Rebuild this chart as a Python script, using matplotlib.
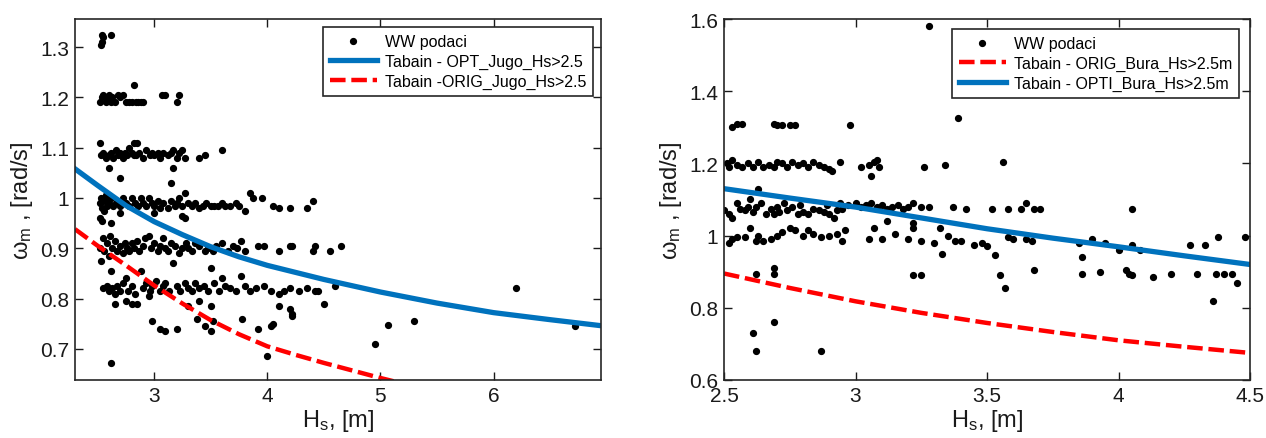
import numpy as np
import matplotlib
matplotlib.use('Agg')
import matplotlib.pyplot as plt
from matplotlib.ticker import FormatStrFormatter

plt.rcParams['font.family'] = ['Arial', 'Liberation Sans', 'DejaVu Sans']
plt.rcParams['mathtext.fontset'] = 'custom'
plt.rcParams['mathtext.rm'] = 'Liberation Sans'
plt.rcParams['mathtext.it'] = 'Liberation Sans'

# ---------------- Jugo (lijevo): WW podaci ----------------
jugo_13 = [(2.53, 1.305), (2.535, 1.31), (2.54, 1.325), (2.55, 1.32), (2.62, 1.325)]
jugo_12 = [(2.52, 1.19), (2.54, 1.2), (2.55, 1.205), (2.57, 1.19), (2.58, 1.2), (2.6, 1.205),
           (2.62, 1.19), (2.63, 1.2), (2.65, 1.19), (2.68, 1.205), (2.7, 1.2), (2.72, 1.205),
           (2.75, 1.19), (2.78, 1.19), (2.8, 1.19), (2.82, 1.225), (2.84, 1.19), (2.86, 1.19),
           (2.88, 1.19), (2.9, 1.19), (3.07, 1.205), (3.1, 1.205), (3.2, 1.19), (3.22, 1.205)]
jugo_11 = [(2.52, 1.11), (2.53, 1.085), (2.55, 1.09), (2.57, 1.08), (2.6, 1.085), (2.62, 1.09),
           (2.64, 1.08), (2.66, 1.095), (2.68, 1.085), (2.7, 1.09), (2.72, 1.08), (2.74, 1.09),
           (2.76, 1.085), (2.78, 1.1), (2.8, 1.09), (2.82, 1.11), (2.84, 1.085), (2.85, 1.11),
           (2.87, 1.09), (2.9, 1.08), (2.93, 1.095), (2.96, 1.085), (2.98, 1.09), (3.0, 1.085),
           (3.03, 1.09), (3.05, 1.08), (3.08, 1.09), (3.12, 1.085), (3.15, 1.09), (3.17, 1.095),
           (3.2, 1.08), (3.22, 1.09), (3.25, 1.095), (3.27, 1.08), (3.4, 1.08), (3.45, 1.085),
           (3.6, 1.095), (2.6, 1.06), (3.17, 1.06), (2.7, 1.04), (3.15, 1.03), (2.82, 1.085)]
jugo_10 = [(2.52, 0.99), (2.53, 1.0), (2.54, 0.98), (2.55, 0.995), (2.56, 0.975), (2.57, 1.0),
           (2.58, 0.985), (2.6, 0.99), (2.62, 1.0), (2.64, 0.985), (2.66, 0.99), (2.7, 0.985),
           (2.72, 1.0), (2.75, 0.99), (2.78, 0.985), (2.8, 1.0), (2.83, 0.99), (2.86, 0.985),
           (2.88, 1.0), (2.9, 0.99), (2.93, 0.985), (2.95, 1.0), (2.98, 0.99), (3.0, 0.985),
           (3.03, 0.995), (3.05, 0.98), (3.08, 0.99), (3.12, 0.98), (3.15, 0.995), (3.18, 0.985),
           (3.2, 0.99), (3.22, 1.0), (3.25, 0.985), (3.27, 1.01), (3.3, 0.99), (3.33, 0.985),
           (3.36, 0.99), (3.4, 0.98), (3.43, 0.985), (3.46, 0.99), (3.5, 0.985), (3.53, 0.985),
           (3.56, 0.985), (3.6, 0.99), (3.63, 0.985), (3.67, 0.985), (3.72, 0.99), (3.75, 0.985),
           (3.8, 0.975), (3.85, 1.01), (3.87, 1.0), (3.95, 1.0), (4.05, 0.985), (4.1, 0.98),
           (4.2, 0.98), (4.35, 0.98), (4.4, 0.995), (2.52, 0.96), (2.54, 0.955), (2.62, 0.95),
           (2.7, 0.97), (3.0, 0.97), (3.25, 0.965), (3.27, 0.96), (2.57, 1.005)]
jugo_09 = [(2.52, 0.9), (2.53, 0.875), (2.55, 0.92), (2.56, 0.895), (2.58, 0.91), (2.6, 0.885),
           (2.61, 0.925), (2.63, 0.9), (2.65, 0.915), (2.67, 0.895), (2.7, 0.905), (2.72, 0.89),
           (2.74, 0.91), (2.76, 0.9), (2.78, 0.895), (2.8, 0.91), (2.82, 0.9), (2.85, 0.915),
           (2.87, 0.895), (2.9, 0.905), (2.92, 0.92), (2.95, 0.925), (2.97, 0.9), (3.0, 0.91),
           (3.03, 0.895), (3.05, 0.905), (3.08, 0.92), (3.1, 0.9), (3.12, 0.895), (3.15, 0.91),
           (3.18, 0.905), (3.22, 0.89), (3.25, 0.9), (3.28, 0.91), (3.3, 0.9), (3.33, 0.895),
           (3.36, 0.91), (3.4, 0.905), (3.45, 0.895), (3.48, 0.9), (3.52, 0.895), (3.55, 0.905),
           (3.6, 0.91), (3.65, 0.895), (3.7, 0.905), (3.73, 0.9), (3.77, 0.915), (3.8, 0.895),
           (3.92, 0.905), (3.97, 0.905), (4.1, 0.895), (4.2, 0.905), (4.22, 0.905), (4.4, 0.895),
           (4.42, 0.905), (4.55, 0.895), (4.65, 0.905)]
jugo_08 = [(2.55, 0.82), (2.58, 0.825), (2.6, 0.815), (2.62, 0.855), (2.63, 0.82), (2.65, 0.81),
           (2.67, 0.825), (2.7, 0.815), (2.72, 0.83), (2.75, 0.84), (2.77, 0.815), (2.8, 0.825),
           (2.83, 0.81), (2.88, 0.855), (2.9, 0.82), (2.93, 0.83), (2.96, 0.815), (2.98, 0.825),
           (3.02, 0.835), (3.05, 0.815), (3.08, 0.825), (3.1, 0.83), (3.13, 0.815), (3.17, 0.87),
           (3.2, 0.825), (3.23, 0.815), (3.27, 0.83), (3.3, 0.82), (3.33, 0.815), (3.36, 0.83),
           (3.4, 0.82), (3.44, 0.825), (3.48, 0.815), (3.5, 0.86), (3.53, 0.83), (3.57, 0.815),
           (3.6, 0.84), (3.63, 0.825), (3.67, 0.82), (3.72, 0.815), (3.77, 0.845), (3.8, 0.825),
           (3.85, 0.815), (3.9, 0.82), (3.97, 0.825), (4.03, 0.815), (4.1, 0.81), (4.15, 0.815),
           (4.2, 0.82), (4.28, 0.815), (4.35, 0.82), (4.42, 0.815), (4.45, 0.815), (4.6, 0.825),
           (2.65, 0.79), (2.75, 0.795), (2.8, 0.79), (2.85, 0.79), (2.95, 0.805), (3.3, 0.785),
           (3.4, 0.795), (3.5, 0.785), (4.1, 0.785), (4.2, 0.78), (4.22, 0.765), (4.22, 0.77),
           (4.5, 0.79)]
jugo_low = [(2.98, 0.755), (3.05, 0.74), (3.1, 0.735), (3.2, 0.74), (3.38, 0.76), (3.45, 0.745),
            (3.5, 0.735), (3.52, 0.755), (3.78, 0.76), (3.92, 0.74), (4.03, 0.745), (4.05, 0.75),
            (4.0, 0.685), (2.62, 0.672), (4.95, 0.71), (5.07, 0.748), (5.3, 0.755), (6.2, 0.82),
            (6.72, 0.745)]

# Tabain krivulje - Jugo
hs_jugo_opt = [2.3, 2.5, 2.75, 3.0, 3.25, 3.5, 3.75, 4.0, 4.5, 5.0, 5.5, 6.0, 6.5, 6.95]
w_jugo_opt = [1.058, 1.025, 0.985, 0.953, 0.927, 0.903, 0.883, 0.866, 0.838, 0.813, 0.791, 0.772, 0.758, 0.746]
hs_jugo_orig = [2.3, 2.5, 2.75, 3.0, 3.25, 3.5, 3.75, 4.0, 4.25, 4.5, 4.75, 5.0, 5.25]
w_jugo_orig = [0.938, 0.905, 0.866, 0.826, 0.79, 0.757, 0.729, 0.705, 0.688, 0.672, 0.657, 0.642, 0.628]

# ---------------- Bura (desno): WW podaci ----------------
bura_13 = [(3.28, 1.58), (3.39, 1.325), (2.53, 1.30), (2.55, 1.31), (2.57, 1.31), (2.69, 1.31),
           (2.7, 1.305), (2.72, 1.305), (2.75, 1.305), (2.77, 1.305), (2.98, 1.305)]
bura_12 = [(2.51, 1.2), (2.52, 1.19), (2.53, 1.21), (2.55, 1.195), (2.57, 1.19), (2.59, 1.2),
           (2.61, 1.19), (2.63, 1.205), (2.65, 1.19), (2.67, 1.195), (2.69, 1.19), (2.7, 1.205),
           (2.72, 1.2), (2.74, 1.19), (2.76, 1.205), (2.78, 1.195), (2.8, 1.2), (2.82, 1.19),
           (2.84, 1.205), (2.86, 1.195), (2.88, 1.19), (2.9, 1.185), (2.91, 1.18), (2.94, 1.205),
           (3.02, 1.19), (3.05, 1.195), (3.07, 1.205), (3.08, 1.21), (3.09, 1.19), (3.06, 1.165),
           (3.26, 1.19), (3.34, 1.195), (3.56, 1.205)]
bura_105 = [(2.5, 1.07), (2.52, 1.06), (2.53, 1.05), (2.55, 1.09), (2.56, 1.075), (2.58, 1.07),
            (2.59, 1.08), (2.6, 1.1), (2.61, 1.065), (2.62, 1.08), (2.63, 1.13), (2.64, 1.09),
            (2.66, 1.06), (2.68, 1.075), (2.69, 1.06), (2.7, 1.08), (2.71, 1.065), (2.73, 1.09),
            (2.74, 1.07), (2.76, 1.08), (2.78, 1.06), (2.79, 1.085), (2.8, 1.065), (2.82, 1.06),
            (2.84, 1.075), (2.86, 1.07), (2.88, 1.065), (2.89, 1.085), (2.9, 1.06), (2.92, 1.05),
            (2.93, 1.07), (2.94, 1.09), (2.95, 1.075)]
bura_108 = [(2.97, 1.085), (3.0, 1.09), (3.02, 1.08), (3.04, 1.085), (3.06, 1.09), (3.08, 1.08),
            (3.1, 1.085), (3.12, 1.075), (3.14, 1.08), (3.16, 1.085), (3.18, 1.075), (3.2, 1.08),
            (3.22, 1.09), (3.25, 1.08), (3.28, 1.08), (3.37, 1.08), (3.42, 1.075), (3.52, 1.075),
            (3.58, 1.075), (3.63, 1.075), (3.65, 1.09), (3.68, 1.075), (3.7, 1.075), (4.05, 1.075)]
bura_10 = [(2.52, 0.98), (2.53, 0.99), (2.58, 0.995), (2.6, 1.02), (2.62, 0.985), (2.63, 1.0),
           (2.68, 0.99), (2.7, 1.0), (2.72, 1.01), (2.75, 1.02), (2.77, 1.015), (2.8, 1.0),
           (2.82, 1.015), (2.84, 1.005), (2.87, 0.995), (2.9, 1.0), (2.93, 1.005), (2.95, 0.985),
           (2.96, 1.015), (3.05, 0.99), (3.07, 1.02), (3.1, 0.99), (3.12, 1.04), (3.15, 1.005),
           (3.2, 0.99), (3.22, 1.02), (3.25, 0.985), (3.3, 0.98), (3.32, 1.02), (3.35, 1.0),
           (3.4, 0.985), (3.45, 0.975), (3.48, 0.98), (3.5, 0.97), (3.58, 0.995), (3.6, 0.99),
           (3.65, 0.99), (3.67, 0.985), (3.22, 1.035), (2.65, 0.985), (2.55, 0.995), (3.38, 0.985)]
bura_low = [(3.33, 0.95), (3.53, 0.945), (3.85, 0.98), (3.9, 0.99), (3.95, 0.98), (4.0, 0.96),
            (4.05, 0.975), (4.08, 0.96), (4.27, 0.975), (4.33, 0.975), (4.38, 0.995), (4.48, 0.995),
            (2.62, 0.895), (2.69, 0.91), (2.69, 0.895), (3.22, 0.89), (3.25, 0.89), (3.55, 0.89),
            (3.68, 0.905), (3.86, 0.895), (3.86, 0.94), (3.93, 0.9), (4.03, 0.905), (4.05, 0.89),
            (4.04, 0.895), (4.13, 0.885), (4.2, 0.895), (4.3, 0.895), (4.37, 0.895), (4.4, 0.895),
            (4.43, 0.895), (4.45, 0.87), (4.36, 0.82), (3.57, 0.855), (2.61, 0.73), (2.62, 0.68),
            (2.69, 0.76), (2.87, 0.68)]

# Tabain krivulje - Bura
hs_bura = [2.5, 2.75, 3.0, 3.25, 3.5, 3.75, 4.0, 4.25, 4.5]
w_bura_opt = [1.13, 1.104, 1.079, 1.049, 1.019, 0.993, 0.969, 0.944, 0.92]
w_bura_orig = [0.895, 0.855, 0.818, 0.786, 0.758, 0.733, 0.71, 0.692, 0.675]

hs_jugo, w_jugo = np.array(jugo_13 + jugo_12 + jugo_11 + jugo_10 + jugo_09 + jugo_08 + jugo_low).T
hs_bura_ww, w_bura_ww = np.array(bura_13 + bura_12 + bura_105 + bura_108 + bura_10 + bura_low).T

blue = '#0072BD'
txt = '#1a1a1a'

fig = plt.figure(figsize=(12.66, 4.39), dpi=100)
ax1 = fig.add_axes([75/1266, 58/439, 526/1266, 361/439])
ax2 = fig.add_axes([724/1266, 58/439, 526/1266, 361/439])


def style(ax):
    ax.tick_params(direction='in', top=True, right=True, length=6, width=1,
                   labelsize=15, colors=txt, pad=4)
    for s in ax.spines.values():
        s.set_linewidth(1.2)
        s.set_color('#262626')
    ax.yaxis.set_major_formatter(FormatStrFormatter('%g'))
    ax.xaxis.set_major_formatter(FormatStrFormatter('%g'))
    ax.set_xlabel(r'H$_{\rm s}$, [m]', fontsize=17, color=txt, labelpad=2)
    ax.set_ylabel(r'$\omega_{\rm m}$ , [rad/s]', fontsize=17, color=txt, labelpad=4)


def legenda(ax, anchor):
    leg = ax.legend(loc='upper right', bbox_to_anchor=anchor, fontsize=11.5,
                    handlelength=2.9, fancybox=False, framealpha=1, borderpad=0.45,
                    labelspacing=0.3, handletextpad=0.5, borderaxespad=0)
    leg.get_frame().set_edgecolor('#262626')
    leg.get_frame().set_linewidth(1.2)


# Lijevi graf - Jugo
ax1.plot(hs_jugo, w_jugo, 'o', color='k', markersize=4.2, label='WW podaci')
ax1.plot(hs_jugo_opt, w_jugo_opt, '-', color=blue, lw=3.8, label='Tabain - OPT_Jugo_Hs>2.5')
ax1.plot(hs_jugo_orig, w_jugo_orig, '--', color='red', lw=3.2, dashes=(3.5, 1.3),
         label='Tabain -ORIG_Jugo_Hs>2.5')
ax1.set_xlim(2.3, 6.95)
ax1.set_ylim(0.638, 1.356)
ax1.set_xticks([3, 4, 5, 6])
ax1.set_yticks([0.7, 0.8, 0.9, 1.0, 1.1, 1.2, 1.3])
style(ax1)
legenda(ax1, (0.985, 0.978))

# Desni graf - Bura
ax2.plot(hs_bura_ww, w_bura_ww, 'o', color='k', markersize=4.2, label='WW podaci')
ax2.plot(hs_bura, w_bura_orig, '--', color='red', lw=3.2, dashes=(3.5, 1.3),
         label='Tabain - ORIG_Bura_Hs>2.5m')
ax2.plot(hs_bura, w_bura_opt, '-', color=blue, lw=3.8, label='Tabain - OPTI_Bura_Hs>2.5m')
ax2.set_xlim(2.5, 4.5)
ax2.set_ylim(0.6, 1.6)
ax2.set_xticks([2.5, 3, 3.5, 4, 4.5])
ax2.set_yticks([0.6, 0.8, 1.0, 1.2, 1.4, 1.6])
style(ax2)
legenda(ax2, (0.979, 0.972))

fig.savefig('out.png', dpi=100)
